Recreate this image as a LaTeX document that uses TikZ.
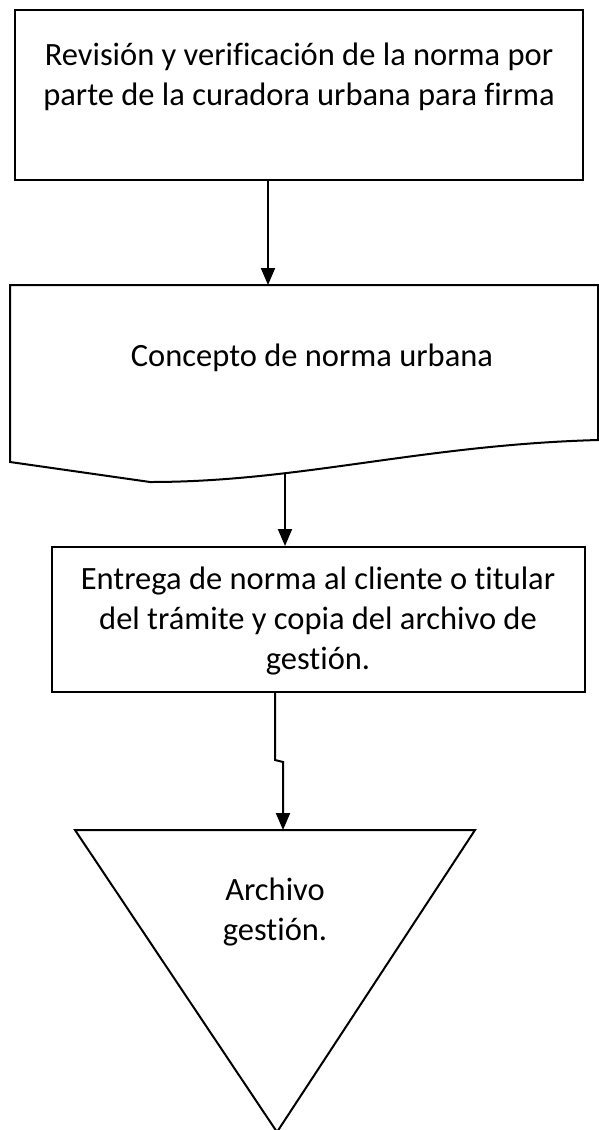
\documentclass[tikz,border=0pt]{standalone}
\usepackage{fontspec}
\setmainfont{Carlito}[Ligatures=NoCommon]
\usetikzlibrary{arrows.meta}
\tikzset{
  ln/.style={line width=2pt, line join=miter},
  flowbox/.style={draw, line width=2pt, inner sep=0pt},
  lbl/.style={font=\fontsize{32.5pt}{40pt}\selectfont, align=center, inner sep=0pt},
  arr/.style={line width=2pt, -{Triangle[length=17pt,width=14pt]}}
}
\begin{document}
\begin{tikzpicture}[x=1pt,y=-1pt]
\useasboundingbox (0,0) rectangle (598,1130);
\fill[white] (0,0) rectangle (598,1130);
% box 1
\node[flowbox, minimum width=568pt, minimum height=170pt] (b1) at (299,95) {};
\node[lbl] (t1) at (299,77) {Revisión y verificación de la norma por\\parte de la curadora urbana para firma};
% document shape
\coordinate (din) at (268,285);
\coordinate (dout) at (285,474);
\draw[ln] (10,462) -- (10,285) -- (598,285) -- (598,440)
  .. controls (420,445) and (300,482) .. (150,482) -- cycle;
\node[lbl] (doc) at (312,358) {Concepto de norma urbana};
% box 3
\node[flowbox, minimum width=533pt, minimum height=145pt] (b3) at (318.5,619.5) {};
\node[lbl] (t3) at (318,621) {Entrega de norma al cliente o titular\\del trámite y copia del archivo de\\gestión.};
% triangle
\coordinate (tin) at (283,830);
\draw[ln] (75,830) -- (475,830) -- (277,1132) -- cycle;
\node[lbl] (arch) at (275,912) {Archivo\\gestión.};
% connectors
\draw[arr] (b1.south -| din) -- (din);
\draw[arr] (dout) -- (b3.north -| dout);
\draw[arr] (b3.south -| 275,0) -- (275,760) -- (283,762) -- (tin);
\end{tikzpicture}
\end{document}
